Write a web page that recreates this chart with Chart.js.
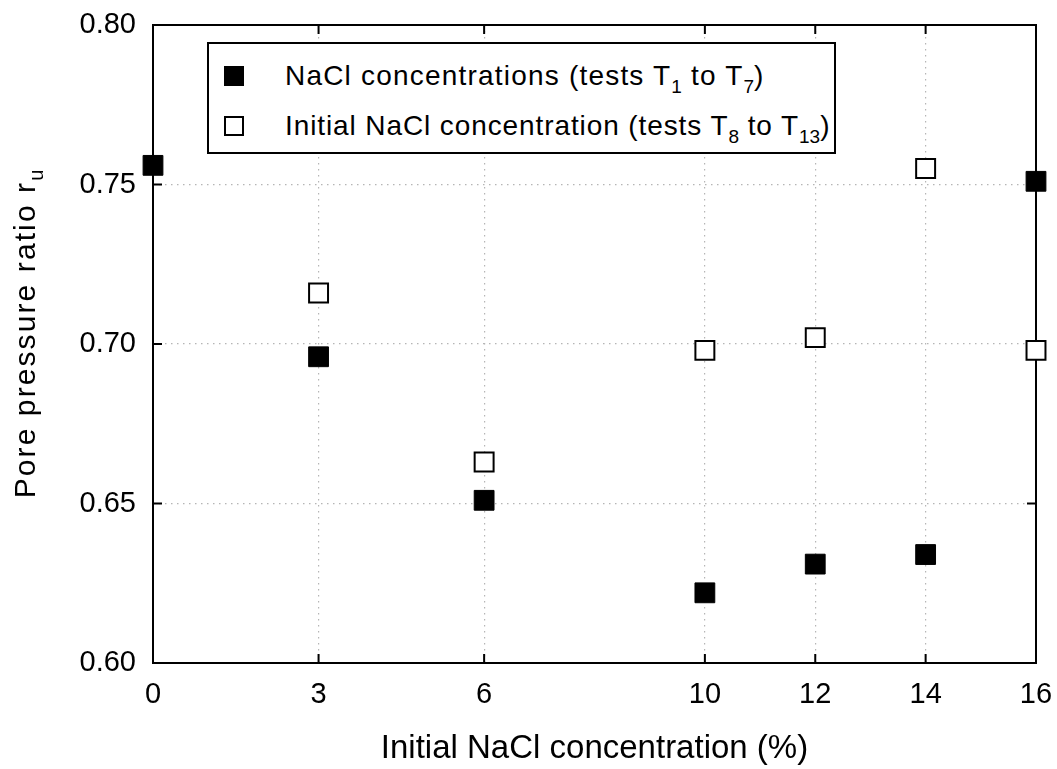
<!DOCTYPE html>
<html><head><meta charset="utf-8">
<script src="https://cdn.jsdelivr.net/npm/chart.js@4"></script>
<style>
body{margin:0;background:#fff;}
#wrap{position:relative;width:1057px;height:769px;font-family:"Liberation Sans",Arial,sans-serif;color:#000;overflow:hidden;}
#c{position:absolute;left:0;top:0;}
#legend{position:absolute;left:207px;top:42px;width:629px;height:112px;box-sizing:border-box;border:2px solid #000;background:#fff;}
.mk{position:absolute;width:20px;height:20px;box-sizing:border-box;}
.row{position:absolute;left:76px;font-size:28px;line-height:40px;white-space:nowrap;letter-spacing:1.2px;}
.sb{font-size:19px;position:relative;top:8px;letter-spacing:0;}
#ytitle{position:absolute;left:-175px;top:314px;width:400px;height:40px;line-height:40px;text-align:center;font-size:30px;letter-spacing:2.1px;white-space:nowrap;transform:rotate(-90deg);}
#ytitle .ys{font-size:20px;position:relative;top:8px;letter-spacing:0;}
</style>
</head><body>
<div id="wrap">
<canvas id="c" width="1057" height="769"></canvas>
<div id="legend">
  <div class="mk" style="left:15px;top:22px;background:#000;"></div>
  <div class="row" style="top:12px;">NaCl concentrations (tests T<span class="sb">1</span> to T<span class="sb">7</span>)</div>
  <div class="mk" style="left:15px;top:72px;background:#fff;border:2px solid #000;"></div>
  <div class="row" style="top:62px;letter-spacing:0.9px;">Initial NaCl concentration (tests T<span class="sb">8</span> to T<span class="sb">13</span>)</div>
</div>
<div id="ytitle">Pore pressure ratio r<span class="ys">u</span></div>
</div>
<script>
const concentrations = [0, 3, 6, 10, 12, 14, 16];
const ruVaried = [0.756, 0.696, 0.651, 0.622, 0.631, 0.634, 0.751];
const initialConc = [3, 6, 10, 12, 14, 16];
const ruInitial = [0.716, 0.663, 0.698, 0.702, 0.755, 0.698];
const xTickValues = [0, 3, 6, 10, 12, 14, 16];
const yTickValues = [0.60, 0.65, 0.70, 0.75, 0.80];

const framePlugin = {
  id: 'frame',
  beforeDatasetsDraw(chart) {
    const {ctx, chartArea: a, scales: {x, y}} = chart;
    ctx.save();
    ctx.strokeStyle = '#000';
    ctx.lineWidth = 2;
    ctx.strokeRect(a.left, a.top, a.right - a.left, a.bottom - a.top);
    const L = 9;
    ctx.beginPath();
    xTickValues.forEach(v => {
      const px = x.getPixelForValue(v);
      if (px <= a.left + 1 || px >= a.right - 1) return;
      ctx.moveTo(px, a.bottom); ctx.lineTo(px, a.bottom - L);
      ctx.moveTo(px, a.top); ctx.lineTo(px, a.top + L);
    });
    yTickValues.forEach(v => {
      const py = y.getPixelForValue(v);
      if (py <= a.top + 1 || py >= a.bottom - 1) return;
      ctx.moveTo(a.left, py); ctx.lineTo(a.left + L, py);
      ctx.moveTo(a.right, py); ctx.lineTo(a.right - L, py);
    });
    ctx.stroke();
    ctx.restore();
  }
};

new Chart(document.getElementById('c'), {
  type: 'scatter',
  data: {
    datasets: [
      {
        label: 'NaCl concentrations (tests T1 to T7)',
        data: concentrations.map((c, i) => ({x: c, y: ruVaried[i]})),
        pointStyle: 'rect', pointRadius: 14, pointHoverRadius: 14,
        backgroundColor: '#000', borderColor: '#000', borderWidth: 1,
        clip: false
      },
      {
        label: 'Initial NaCl concentration (tests T8 to T13)',
        data: initialConc.map((c, i) => ({x: c, y: ruInitial[i]})),
        pointStyle: 'rect', pointRadius: 13.4, pointHoverRadius: 13.4,
        backgroundColor: '#fff', borderColor: '#000', borderWidth: 2,
        clip: false
      }
    ]
  },
  options: {
    responsive: false,
    animation: false,
    layout: {padding: {left: 0, right: 21, top: 25, bottom: 0}},
    plugins: {legend: {display: false}, tooltip: {enabled: false}},
    scales: {
      x: {
        type: 'linear', min: 0, max: 16,
        afterBuildTicks: s => { s.ticks = xTickValues.map(v => ({value: v})); },
        afterFit: s => { s.height = 106; s.paddingLeft = 0; s.paddingRight = 0; },
        grid: {color: '#b5b5b5', lineWidth: 1.2, drawTicks: false},
        border: {display: false, dash: [1.5, 4.5]},
        ticks: {color: '#000', padding: 15, autoSkip: false, maxRotation: 0,
                font: {family: '"Liberation Sans", Arial, sans-serif', size: 29}},
        title: {display: true, text: 'Initial NaCl concentration (%)', color: '#000',
                padding: {top: 0, bottom: 0},
                font: {family: '"Liberation Sans", Arial, sans-serif', size: 33}}
      },
      y: {
        min: 0.6, max: 0.8,
        afterBuildTicks: s => { s.ticks = yTickValues.map(v => ({value: v})); },
        afterFit: s => { s.width = 153; s.paddingTop = 0; s.paddingBottom = 0; },
        grid: {color: '#b5b5b5', lineWidth: 1.2, drawTicks: false},
        border: {display: false, dash: [1.5, 4.5]},
        ticks: {color: '#000', padding: 17, callback: v => Number(v).toFixed(2),
                font: {family: '"Liberation Sans", Arial, sans-serif', size: 29}}
      }
    }
  },
  plugins: [framePlugin]
});
</script>
</body></html>
